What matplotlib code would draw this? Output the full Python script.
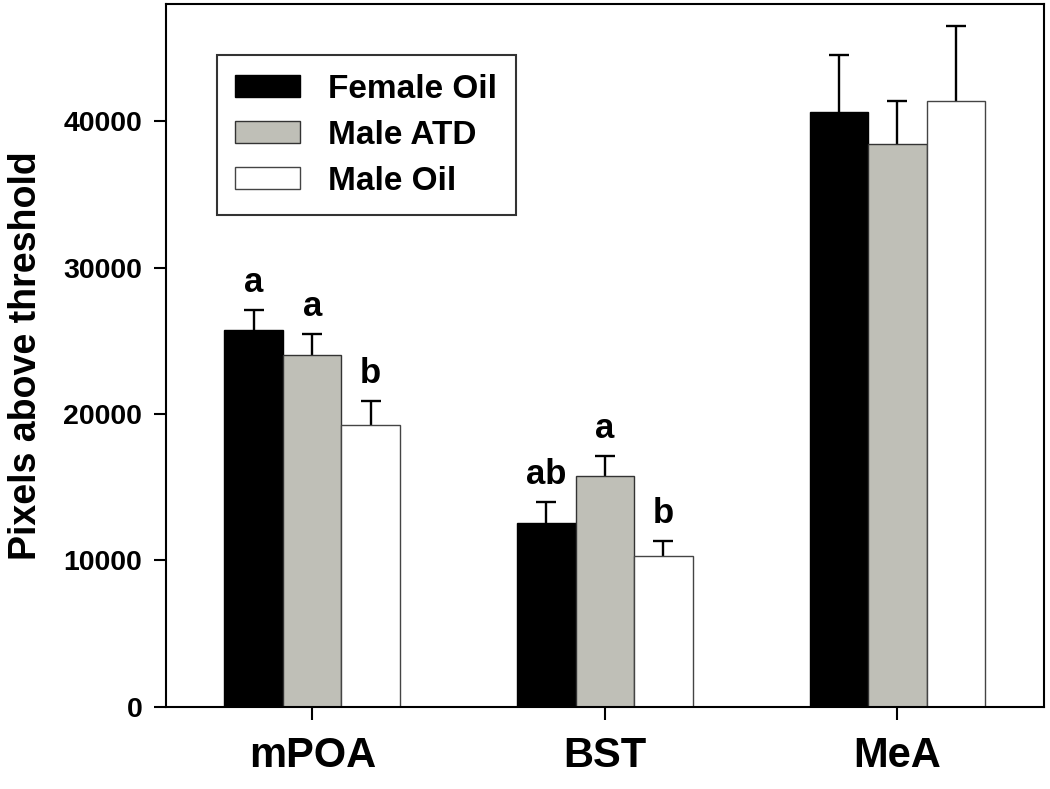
#!/usr/bin/env python3

import matplotlib
matplotlib.use("Agg")
import matplotlib.pyplot as plt
import numpy as np

plt.rcParams["font.family"] = ["Liberation Sans", "DejaVu Sans"]
plt.rcParams["font.weight"] = "bold"

regions = ["mPOA", "BST", "MeA"]
groups = ["Female Oil", "Male ATD", "Male Oil"]

# means and (upper) SEM per group, one value per region
female_oil = [25730, 12580, 40610]
female_oil_err = [1340, 1430, 3890]
male_atd = [24050, 15790, 38430]
male_atd_err = [1390, 1370, 2915]
male_oil = [19250, 10330, 41390]
male_oil_err = [1640, 980, 5070]

# significance letters (empty = none)
female_oil_sig = ["a", "ab", ""]
male_atd_sig = ["a", "a", ""]
male_oil_sig = ["b", "b", ""]

fig = plt.figure(figsize=(10.5, 7.89), dpi=100)
ax = fig.add_axes([0.158, 0.104, 0.836, 0.891])

x = np.arange(len(regions))
width = 0.2
series = [
    (female_oil, female_oil_err, female_oil_sig, "black", "black"),
    (male_atd, male_atd_err, male_atd_sig, "#bfbfb7", "#333333"),
    (male_oil, male_oil_err, male_oil_sig, "white", "#444444"),
]

for i, (vals, errs, sig, fc, ec) in enumerate(series):
    pos = x + (i - 1) * width
    ax.bar(pos, vals, width, color=fc, edgecolor=ec, linewidth=1.0,
           label=groups[i], zorder=2)
    eb = ax.errorbar(pos, vals, yerr=[np.zeros(len(errs)), errs], fmt="none",
                     ecolor="black", elinewidth=1.7, capsize=7.5, capthick=1.7,
                     zorder=1)
    eb[1][0].set_visible(False)  # hide the lower caps
    for p, v, e, s in zip(pos, vals, errs, sig):
        if s:
            ax.annotate(s, (p, v + e), xytext=(0, 13), textcoords="offset points",
                        ha="center", va="baseline", fontsize=25,
                        fontweight="bold")

ax.set_xlim(-0.5, 2.5)
ax.set_ylim(0, 48000)
ax.set_xticks(x)
ax.set_xticklabels(regions, fontsize=30, fontweight="bold")
ax.set_yticks([0, 10000, 20000, 30000, 40000])
ax.tick_params(axis="y", labelsize=20.5, length=9, width=1.5, pad=8)
ax.tick_params(axis="x", length=9, width=1.5, pad=12)
ax.set_ylabel("Pixels above threshold", fontsize=27, fontweight="bold",
              labelpad=14)
for sp in ax.spines.values():
    sp.set_linewidth(1.5)

leg = ax.legend(loc="upper left", bbox_to_anchor=(0.058, 0.927),
                fontsize=24, frameon=True, fancybox=False, edgecolor="black",
                handlelength=1.95, handleheight=0.66, handletextpad=0.85,
                labelspacing=0.45, borderpad=0.55, borderaxespad=0)
leg.get_frame().set_linewidth(1.5)
for t in leg.get_texts():
    t.set_fontweight("bold")

fig.savefig("out.png", dpi=100)
